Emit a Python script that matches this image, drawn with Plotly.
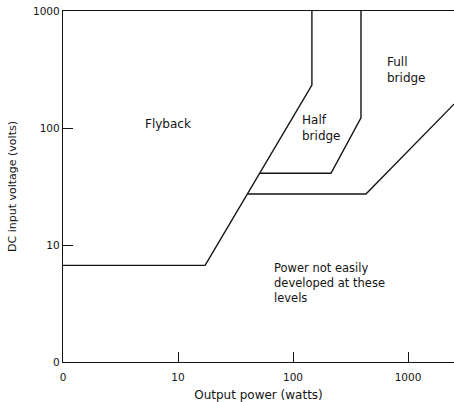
import plotly.graph_objects as go

# Boundary lines (output power in watts, DC input voltage in volts)
flyback_x = [1, 17.2, 146, 146]
flyback_y = [6.7, 6.7, 233, 1000]

halfbridge_x = [51.6, 214, 390, 390]
halfbridge_y = [41, 41, 122, 1000]

fullbridge_x = [40.5, 431, 2512]
fullbridge_y = [27.3, 27.3, 160]

tick_vals = [1, 10, 100, 1000]
x_tick_text = ["0", "10", "100", "1000"]
y_tick_text = ["0", "10", "100", "1000"]

FONT = "DejaVu Sans"
INK = "#141414"

fig = go.Figure()
for xs, ys in [(flyback_x, flyback_y), (halfbridge_x, halfbridge_y), (fullbridge_x, fullbridge_y)]:
    fig.add_trace(go.Scatter(x=xs, y=ys, mode="lines",
                             line=dict(color=INK, width=1.4), showlegend=False,
                             hoverinfo="skip"))

def label(text, x, y, size, xanchor="left"):
    fig.add_annotation(text=text, x=x, y=y, xref="paper", yref="paper",
                       xanchor=xanchor, yanchor="middle", align="left",
                       showarrow=False, font=dict(family=FONT, size=size, color=INK))

label("Flyback", 0.269, 0.678, 12, "center")
label("Half<br>bridge", 0.606, 0.667, 12)
label("Full<br>bridge", 0.824, 0.832, 12)
label("Power not easily<br>developed at these<br>levels", 0.535, 0.225, 11.5)

fig.update_layout(
    width=454, height=402,
    margin=dict(l=63, r=0, t=11, b=40),
    paper_bgcolor="white", plot_bgcolor="white",
    font=dict(family=FONT, size=10.5, color=INK),
    xaxis=dict(type="log", range=[0, 3.4], tickvals=tick_vals, ticktext=x_tick_text,
               ticks="inside", ticklen=10, tickcolor=INK, tickwidth=1.2,
               ticklabelstandoff=5,
               showline=True, linecolor=INK, linewidth=1.4, mirror=True,
               showgrid=False, zeroline=False,
               title=dict(text="Output power (watts)", font=dict(size=12), standoff=8)),
    yaxis=dict(type="log", range=[0, 3], tickvals=tick_vals, ticktext=y_tick_text,
               ticks="inside", ticklen=10, tickcolor=INK, tickwidth=1.2,
               showline=True, linecolor=INK, linewidth=1.4,
               showgrid=False, zeroline=False,
               title=dict(text="DC input voltage (volts)", font=dict(size=11), standoff=14)),
)

fig.write_html("out.html",
               config={"displayModeBar": False},
               post_script="document.body.style.margin='0px';document.body.style.overflow='hidden';")
